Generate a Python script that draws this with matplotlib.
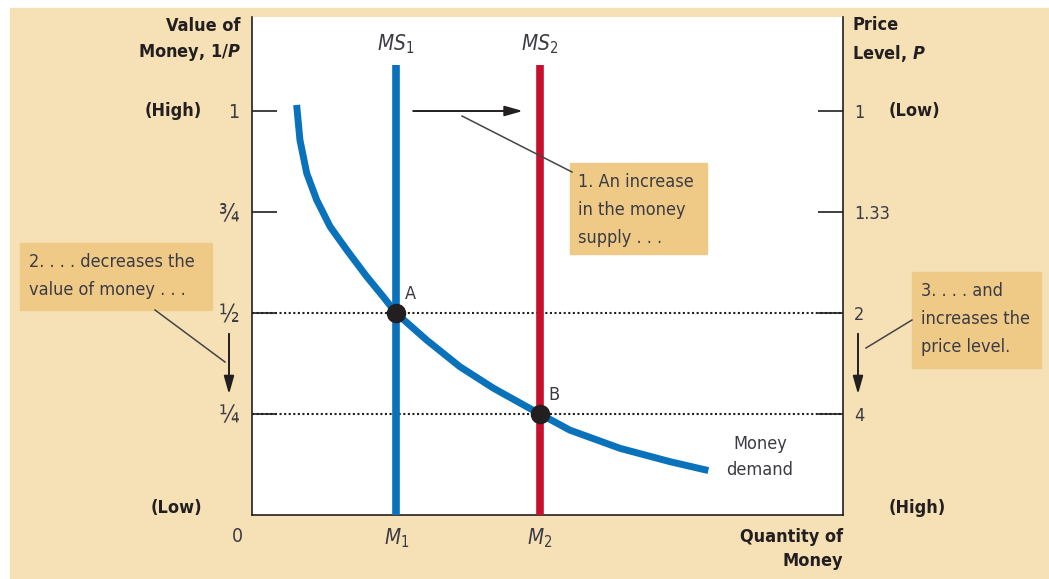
import matplotlib
matplotlib.use("Agg")
import matplotlib.pyplot as plt
from matplotlib.patches import Rectangle, FancyArrowPatch

plt.rcParams['font.family'] = ['DejaVu Sans']
plt.rcParams['font.stretch'] = 'condensed'
plt.rcParams['mathtext.fontset'] = 'custom'
plt.rcParams['mathtext.it'] = 'DejaVu Sans:italic'
plt.rcParams['mathtext.rm'] = 'DejaVu Sans'
plt.rcParams['mathtext.bf'] = 'DejaVu Sans:bold:italic'

W, H = 1049, 579

# data: quantity of money (M1 = 1) and value of money 1/P
ms1, ms2 = 1.0, 2.0
demand_m = [0.310, 0.333, 0.380, 0.449, 0.542, 0.658, 0.797, 0.912, 1.0,
            1.213, 1.444, 1.676, 1.908, 2.0, 2.208, 2.556, 2.903, 3.169]
demand_v = [1.015, 0.928, 0.846, 0.780, 0.714, 0.656, 0.590, 0.540, 0.5,
            0.433, 0.367, 0.314, 0.268, 0.25, 0.210, 0.165, 0.132, 0.110]
eq_m = [1.0, 2.0]
eq_v = [0.5, 0.25]
eq_names = ['A', 'B']
left_ticks = [1, 0.75, 0.5, 0.25]
left_labels = ['1', '\u00be', '\u00bd', '\u00bc']
right_labels = ['1', '1.33', '2', '4']

ink = '#231f20'
txt = '#3b3b45'
beige = '#f6e1b6'
boxc = '#efca86'
blue = '#0a72ba'
red = '#c8102e'
head = '-|>,head_width=0.17,head_length=0.6'


def P(x, y):
    # pixel position (from top left) -> figure fraction
    return (x / W, 1 - y / H)


fig = plt.figure(figsize=(W / 100, H / 100), dpi=100, facecolor='white')
fig.patches.append(Rectangle(P(10, 579), 1 - 10 / W, (579 - 8) / H,
                             transform=fig.transFigure, color=beige, zorder=-5))

ax = fig.add_axes([252 / W, 64 / H, 591 / W, 498 / H])
ax.set_facecolor('white')
ax.set_xlim(0, 591 / 144)
ax.set_ylim(0, 498 / 404)
ax.spines['top'].set_visible(False)
for s in ['left', 'right', 'bottom']:
    ax.spines[s].set_color(ink)
    ax.spines[s].set_linewidth(1.2)
ax.set_xticks([])
ax.set_yticks(left_ticks)
ax.set_yticklabels(left_labels, color=txt, fontsize=17)
ax.get_yticklabels()[0].set_fontsize(14)
ax.tick_params(axis='y', direction='in', length=18, width=1.2, color=ink, pad=9)

axr = ax.twinx()
axr.set_ylim(ax.get_ylim())
axr.set_yticks(left_ticks)
axr.set_yticklabels(right_labels, color=txt, fontsize=13)
axr.tick_params(axis='y', direction='in', length=18, width=1.2, color=ink, pad=8)
for s in ['top', 'left', 'bottom', 'right']:
    axr.spines[s].set_visible(False)

# dotted guide lines
for v in eq_v:
    ax.axhline(v, color=ink, linestyle=(0, (1, 1.2)), linewidth=1.5, zorder=2)

# money supply lines
ax.plot([ms1, ms1], [0, 1.114], color=blue, linewidth=5.5, zorder=3, solid_capstyle='butt')
ax.plot([ms2, ms2], [0, 1.114], color=red, linewidth=5.5, zorder=3, solid_capstyle='butt')

# money demand
ax.plot(demand_m, demand_v, color=blue, linewidth=5, zorder=4, solid_capstyle='butt',
        solid_joinstyle='round')

ax.scatter(eq_m, eq_v, s=170, color=ink, zorder=5)
for m, v, n in zip(eq_m, eq_v, eq_names):
    ax.text(m + 0.06, v + 0.025, n, fontsize=13, color=txt, va='bottom', ha='left')

ax.text(ms1, 1.165, '$MS_1$', ha='center', va='center', fontsize=15, color=txt)
ax.text(ms2, 1.165, '$MS_2$', ha='center', va='center', fontsize=15, color=txt)

# shift arrow
ax.annotate('', xy=(1.9, 1.0), xytext=(1.1, 1.0),
            arrowprops=dict(arrowstyle=head, color=ink, lw=1.4, mutation_scale=18))

# axis labels in the margin
fig.text(*P(241, 40), 'Value of\nMoney, 1/$\\mathbf{P}$', ha='right', va='center',
         fontsize=13, fontweight='bold', color=ink, linespacing=1.5)
fig.text(*P(852, 40), 'Price\nLevel, $\\mathbf{P}$', ha='left', va='center',
         fontsize=13, fontweight='bold', color=ink, linespacing=1.5)
fig.text(*P(202, 111), '(High)', ha='right', va='center', fontsize=13, fontweight='bold', color=ink)
fig.text(*P(202, 508), '(Low)', ha='right', va='center', fontsize=13, fontweight='bold', color=ink)
fig.text(*P(889, 111), '(Low)', ha='left', va='center', fontsize=13, fontweight='bold', color=ink)
fig.text(*P(889, 508), '(High)', ha='left', va='center', fontsize=13, fontweight='bold', color=ink)
fig.text(*P(843, 549), 'Quantity of\nMoney', ha='right', va='center', fontsize=13,
         fontweight='bold', color=ink, linespacing=1.5)

fig.text(*P(237, 537), '0', ha='center', va='center', fontsize=14, color=txt)
fig.text(*P(397, 538), '$M_1$', ha='center', va='center', fontsize=15, color=txt)
fig.text(*P(540, 538), '$M_2$', ha='center', va='center', fontsize=15, color=txt)

ax.text(3.528, 0.1436, 'Money\ndemand', ha='center', va='center', fontsize=13, color=txt,
        linespacing=1.6)

# callout boxes
fig.patches.append(Rectangle(P(570, 254), 137 / W, 91 / H, transform=fig.transFigure,
                             color=boxc, zorder=1))
fig.text(*P(578, 210), '1. An increase\nin the money\nsupply . . .', ha='left', va='center',
         fontsize=13, color=txt, linespacing=1.72, zorder=2)
fig.patches.append(Rectangle(P(20, 310), 192 / W, 67 / H, transform=fig.transFigure,
                             color=boxc, zorder=1))
fig.text(*P(29, 276), '2. . . . decreases the\nvalue of money . . .', ha='left', va='center',
         fontsize=13, color=txt, linespacing=1.72, zorder=2)
fig.patches.append(Rectangle(P(912, 368), 129 / W, 96 / H, transform=fig.transFigure,
                             color=boxc, zorder=1))
fig.text(*P(921, 319), '3. . . . and\nincreases the\nprice level.', ha='left', va='center',
         fontsize=13, color=txt, linespacing=1.72, zorder=2)


# leader lines and arrows in figure pixels
def seg(x0, y0, x1, y1):
    fig.add_artist(plt.Line2D([x0 / W, x1 / W], [1 - y0 / H, 1 - y1 / H],
                              transform=fig.transFigure, color='#444444', linewidth=1.1))


seg(462, 116, 572, 172)
seg(155, 310, 225, 362)
seg(866, 348, 912, 320)

for x in [229, 858]:
    fig.add_artist(FancyArrowPatch(
        P(x, 331), P(x, 397), transform=fig.transFigure, arrowstyle=head,
        color=ink, lw=1.4, mutation_scale=18))

fig.savefig('out.png', dpi=100, facecolor='white')
